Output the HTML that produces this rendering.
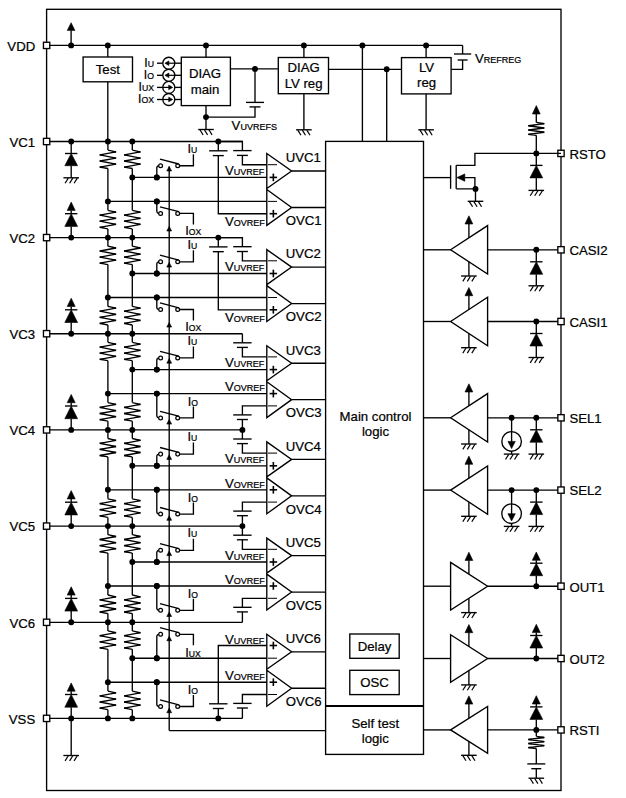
<!DOCTYPE html>
<html><head><meta charset="utf-8"><style>
html,body{margin:0;padding:0;background:#fff;}
svg{display:block;}
text{font-family:"Liberation Sans",sans-serif;fill:#000;stroke:#000;stroke-width:0.22px;}
</style></head><body>
<svg width="626" height="798" viewBox="0 0 626 798">
<g stroke="#000" fill="none" stroke-linecap="butt" stroke-linejoin="miter">
<rect x="46.60" y="9.30" width="514.40" height="781.20" fill="none" stroke-width="1.35"/>
<line x1="46.60" y1="45.40" x2="462.60" y2="45.40" stroke-width="1.35"/>
<rect x="43.45" y="42.25" width="6.30" height="6.30" fill="#fff" stroke-width="1.35"/>
<text x="35.20" y="50.50" font-size="13.2" text-anchor="end">VDD</text>
<circle cx="71.10" cy="45.40" r="2.95" fill="#000" stroke="none"/>
<line x1="71.10" y1="45.40" x2="71.10" y2="30.40" stroke-width="1.35"/>
<polygon points="71.10,22.70 67.30,30.40 74.90,30.40" fill="#000" stroke="#000" stroke-width="0.6"/>
<circle cx="107.80" cy="45.40" r="2.95" fill="#000" stroke="none"/>
<line x1="107.80" y1="45.40" x2="107.80" y2="57.00" stroke-width="1.35"/>
<rect x="83.10" y="57.00" width="49.40" height="24.80" fill="none" stroke-width="1.35"/>
<text x="107.80" y="74.00" font-size="13.2" text-anchor="middle">Test</text>
<line x1="107.80" y1="81.80" x2="107.80" y2="141.50" stroke-width="1.35"/>
<circle cx="206.00" cy="45.40" r="2.95" fill="#000" stroke="none"/>
<line x1="206.00" y1="45.40" x2="206.00" y2="57.20" stroke-width="1.35"/>
<rect x="181.30" y="57.20" width="49.10" height="48.40" fill="none" stroke-width="1.35"/>
<text x="205.00" y="77.60" font-size="13.2" text-anchor="middle">DIAG</text>
<text x="205.00" y="93.60" font-size="13.2" text-anchor="middle">main</text>
<line x1="206.00" y1="105.60" x2="206.00" y2="129.50" stroke-width="1.35"/>
<circle cx="206.00" cy="117.10" r="2.95" fill="#000" stroke="none"/>
<line x1="198.20" y1="129.50" x2="213.80" y2="129.50" stroke-width="1.35"/>
<line x1="199.90" y1="129.80" x2="203.10" y2="134.90" stroke-width="1.2"/>
<line x1="204.40" y1="129.80" x2="207.60" y2="134.90" stroke-width="1.2"/>
<line x1="208.90" y1="129.80" x2="212.10" y2="134.90" stroke-width="1.2"/>
<polyline points="206.00,117.10 255.00,117.10 255.00,106.90" fill="none" stroke-width="1.35"/>
<line x1="230.40" y1="68.90" x2="278.30" y2="68.90" stroke-width="1.35"/>
<circle cx="255.00" cy="68.90" r="2.95" fill="#000" stroke="none"/>
<line x1="255.00" y1="68.90" x2="255.00" y2="102.40" stroke-width="1.35"/>
<line x1="246.00" y1="102.40" x2="264.00" y2="102.40" stroke-width="1.35"/>
<line x1="249.50" y1="106.90" x2="260.50" y2="106.90" stroke-width="1.35"/>
<text x="231.60" y="130.40" font-size="13.2" text-anchor="start">V<tspan font-size="9.0">UVREFS</tspan></text>
<circle cx="168.80" cy="63.20" r="6.0" fill="none" stroke-width="1.35"/>
<line x1="157.00" y1="63.20" x2="162.80" y2="63.20" stroke-width="1.35"/>
<line x1="174.80" y1="63.20" x2="181.30" y2="63.20" stroke-width="1.35"/>
<line x1="166.50" y1="63.20" x2="174.80" y2="63.20" stroke-width="1.2"/>
<polygon points="164.90,63.20 168.90,60.90 168.90,65.50" fill="#000" stroke="#000" stroke-width="0.6"/>
<text x="154.00" y="66.60" font-size="12.2" text-anchor="end">I<tspan font-size="8.7">U</tspan></text>
<circle cx="168.80" cy="75.30" r="6.0" fill="none" stroke-width="1.35"/>
<line x1="157.00" y1="75.30" x2="162.80" y2="75.30" stroke-width="1.35"/>
<line x1="174.80" y1="75.30" x2="181.30" y2="75.30" stroke-width="1.35"/>
<line x1="166.50" y1="75.30" x2="174.80" y2="75.30" stroke-width="1.2"/>
<polygon points="164.90,75.30 168.90,73.00 168.90,77.60" fill="#000" stroke="#000" stroke-width="0.6"/>
<text x="154.00" y="78.70" font-size="12.2" text-anchor="end">I<tspan font-size="8.7">O</tspan></text>
<circle cx="168.80" cy="87.40" r="6.0" fill="none" stroke-width="1.35"/>
<line x1="157.00" y1="87.40" x2="162.80" y2="87.40" stroke-width="1.35"/>
<line x1="174.80" y1="87.40" x2="181.30" y2="87.40" stroke-width="1.35"/>
<line x1="162.80" y1="87.40" x2="171.00" y2="87.40" stroke-width="1.2"/>
<polygon points="172.70,87.40 168.70,85.10 168.70,89.70" fill="#000" stroke="#000" stroke-width="0.6"/>
<text x="154.00" y="90.80" font-size="12.2" text-anchor="end">I<tspan font-size="8.7">UX</tspan></text>
<circle cx="168.80" cy="99.50" r="6.0" fill="none" stroke-width="1.35"/>
<line x1="157.00" y1="99.50" x2="162.80" y2="99.50" stroke-width="1.35"/>
<line x1="174.80" y1="99.50" x2="181.30" y2="99.50" stroke-width="1.35"/>
<line x1="162.80" y1="99.50" x2="171.00" y2="99.50" stroke-width="1.2"/>
<polygon points="172.70,99.50 168.70,97.20 168.70,101.80" fill="#000" stroke="#000" stroke-width="0.6"/>
<text x="154.00" y="102.90" font-size="12.2" text-anchor="end">I<tspan font-size="8.7">OX</tspan></text>
<circle cx="303.90" cy="45.40" r="2.95" fill="#000" stroke="none"/>
<line x1="303.90" y1="45.40" x2="303.90" y2="57.50" stroke-width="1.35"/>
<rect x="278.30" y="57.50" width="50.20" height="36.20" fill="none" stroke-width="1.35"/>
<text x="303.60" y="71.90" font-size="13.2" text-anchor="middle">DIAG</text>
<text x="303.60" y="87.50" font-size="13.2" text-anchor="middle">LV reg</text>
<line x1="303.90" y1="93.70" x2="303.90" y2="129.80" stroke-width="1.35"/>
<line x1="296.10" y1="129.80" x2="311.70" y2="129.80" stroke-width="1.35"/>
<line x1="297.80" y1="130.10" x2="301.00" y2="135.20" stroke-width="1.2"/>
<line x1="302.30" y1="130.10" x2="305.50" y2="135.20" stroke-width="1.2"/>
<line x1="306.80" y1="130.10" x2="310.00" y2="135.20" stroke-width="1.2"/>
<circle cx="362.40" cy="45.40" r="2.95" fill="#000" stroke="none"/>
<line x1="362.40" y1="45.40" x2="362.40" y2="141.40" stroke-width="1.35"/>
<line x1="328.50" y1="69.30" x2="401.50" y2="69.30" stroke-width="1.35"/>
<circle cx="386.70" cy="69.30" r="2.95" fill="#000" stroke="none"/>
<line x1="386.70" y1="69.30" x2="386.70" y2="141.40" stroke-width="1.35"/>
<circle cx="426.10" cy="45.40" r="2.95" fill="#000" stroke="none"/>
<line x1="426.10" y1="45.40" x2="426.10" y2="57.60" stroke-width="1.35"/>
<rect x="401.50" y="57.60" width="49.60" height="36.30" fill="none" stroke-width="1.35"/>
<text x="426.60" y="71.80" font-size="13.2" text-anchor="middle">LV</text>
<text x="426.60" y="87.20" font-size="13.2" text-anchor="middle">reg</text>
<line x1="426.10" y1="93.90" x2="426.10" y2="129.80" stroke-width="1.35"/>
<line x1="418.30" y1="129.80" x2="433.90" y2="129.80" stroke-width="1.35"/>
<line x1="420.00" y1="130.10" x2="423.20" y2="135.20" stroke-width="1.2"/>
<line x1="424.50" y1="130.10" x2="427.70" y2="135.20" stroke-width="1.2"/>
<line x1="429.00" y1="130.10" x2="432.20" y2="135.20" stroke-width="1.2"/>
<polyline points="462.60,45.40 462.60,54.00" fill="none" stroke-width="1.35"/>
<line x1="454.00" y1="54.00" x2="471.20" y2="54.00" stroke-width="1.35"/>
<line x1="457.60" y1="60.00" x2="467.60" y2="60.00" stroke-width="1.35"/>
<polyline points="462.60,60.00 462.60,69.30 451.10,69.30" fill="none" stroke-width="1.35"/>
<text x="475.00" y="62.90" font-size="13.2" text-anchor="start">V<tspan font-size="9.0">REFREG</tspan></text>
<rect x="325.60" y="141.40" width="97.90" height="613.00" fill="none" stroke-width="1.35"/>
<line x1="325.60" y1="706.10" x2="423.50" y2="706.10" stroke-width="2.0"/>
<text x="375.50" y="420.80" font-size="13.2" text-anchor="middle">Main control</text>
<text x="375.50" y="436.00" font-size="13.2" text-anchor="middle">logic</text>
<rect x="349.80" y="634.00" width="49.40" height="24.30" fill="none" stroke-width="1.35"/>
<text x="374.50" y="651.00" font-size="13.2" text-anchor="middle">Delay</text>
<rect x="349.80" y="670.30" width="49.40" height="24.30" fill="none" stroke-width="1.35"/>
<text x="374.50" y="687.00" font-size="13.2" text-anchor="middle">OSC</text>
<text x="375.30" y="727.80" font-size="13.2" text-anchor="middle">Self test</text>
<text x="375.30" y="742.80" font-size="13.2" text-anchor="middle">logic</text>
<circle cx="132.30" cy="177.40" r="2.95" fill="#000" stroke="none"/>
<line x1="132.30" y1="177.40" x2="266.80" y2="177.40" stroke-width="1.35"/>
<circle cx="107.90" cy="201.40" r="2.95" fill="#000" stroke="none"/>
<line x1="107.90" y1="201.40" x2="266.80" y2="201.40" stroke-width="1.35"/>
<circle cx="156.80" cy="177.40" r="2.95" fill="#000" stroke="none"/>
<circle cx="156.80" cy="201.40" r="2.95" fill="#000" stroke="none"/>
<polyline points="107.90,150.10 115.90,151.90 99.90,154.90 115.90,158.10 99.90,161.00 115.90,164.10 99.90,167.10 107.90,168.50" fill="none" stroke-width="1.35"/>
<line x1="112.50" y1="151.90" x2="116.20" y2="151.90" stroke-width="1.5"/>
<line x1="99.60" y1="154.90" x2="103.30" y2="154.90" stroke-width="1.5"/>
<line x1="112.50" y1="158.10" x2="116.20" y2="158.10" stroke-width="1.5"/>
<line x1="99.60" y1="161.00" x2="103.30" y2="161.00" stroke-width="1.5"/>
<line x1="112.50" y1="164.10" x2="116.20" y2="164.10" stroke-width="1.5"/>
<line x1="99.60" y1="167.10" x2="103.30" y2="167.10" stroke-width="1.5"/>
<polyline points="132.30,150.10 140.30,151.90 124.30,154.90 140.30,158.10 124.30,161.00 140.30,164.10 124.30,167.10 132.30,168.50" fill="none" stroke-width="1.35"/>
<line x1="136.90" y1="151.90" x2="140.60" y2="151.90" stroke-width="1.5"/>
<line x1="124.00" y1="154.90" x2="127.70" y2="154.90" stroke-width="1.5"/>
<line x1="136.90" y1="158.10" x2="140.60" y2="158.10" stroke-width="1.5"/>
<line x1="124.00" y1="161.00" x2="127.70" y2="161.00" stroke-width="1.5"/>
<line x1="136.90" y1="164.10" x2="140.60" y2="164.10" stroke-width="1.5"/>
<line x1="124.00" y1="167.10" x2="127.70" y2="167.10" stroke-width="1.5"/>
<polyline points="107.90,210.30 115.90,212.10 99.90,215.10 115.90,218.30 99.90,221.20 115.90,224.30 99.90,227.30 107.90,228.90" fill="none" stroke-width="1.35"/>
<line x1="112.50" y1="212.10" x2="116.20" y2="212.10" stroke-width="1.5"/>
<line x1="99.60" y1="215.10" x2="103.30" y2="215.10" stroke-width="1.5"/>
<line x1="112.50" y1="218.30" x2="116.20" y2="218.30" stroke-width="1.5"/>
<line x1="99.60" y1="221.20" x2="103.30" y2="221.20" stroke-width="1.5"/>
<line x1="112.50" y1="224.30" x2="116.20" y2="224.30" stroke-width="1.5"/>
<line x1="99.60" y1="227.30" x2="103.30" y2="227.30" stroke-width="1.5"/>
<polyline points="132.30,210.30 140.30,212.10 124.30,215.10 140.30,218.30 124.30,221.20 140.30,224.30 124.30,227.30 132.30,228.90" fill="none" stroke-width="1.35"/>
<line x1="136.90" y1="212.10" x2="140.60" y2="212.10" stroke-width="1.5"/>
<line x1="124.00" y1="215.10" x2="127.70" y2="215.10" stroke-width="1.5"/>
<line x1="136.90" y1="218.30" x2="140.60" y2="218.30" stroke-width="1.5"/>
<line x1="124.00" y1="221.20" x2="127.70" y2="221.20" stroke-width="1.5"/>
<line x1="136.90" y1="224.30" x2="140.60" y2="224.30" stroke-width="1.5"/>
<line x1="124.00" y1="227.30" x2="127.70" y2="227.30" stroke-width="1.5"/>
<line x1="107.90" y1="141.50" x2="107.90" y2="150.10" stroke-width="1.35"/>
<line x1="107.90" y1="168.50" x2="107.90" y2="210.30" stroke-width="1.35"/>
<line x1="107.90" y1="228.90" x2="107.90" y2="237.60" stroke-width="1.35"/>
<line x1="132.30" y1="141.50" x2="132.30" y2="150.10" stroke-width="1.35"/>
<line x1="132.30" y1="168.50" x2="132.30" y2="210.30" stroke-width="1.35"/>
<line x1="132.30" y1="228.90" x2="132.30" y2="237.60" stroke-width="1.35"/>
<polygon points="266.80,153.50 291.60,171.00 266.80,188.50" fill="none" stroke-width="1.35"/>
<line x1="268.00" y1="164.70" x2="277.00" y2="164.70" stroke-width="1.0"/>
<line x1="269.60" y1="177.40" x2="277.10" y2="177.40" stroke-width="1.6"/>
<line x1="273.35" y1="173.60" x2="273.35" y2="181.20" stroke-width="1.6"/>
<polygon points="266.80,189.50 291.60,207.45 266.80,225.40" fill="none" stroke-width="1.35"/>
<line x1="268.00" y1="201.40" x2="277.00" y2="201.40" stroke-width="1.0"/>
<line x1="269.60" y1="213.70" x2="277.10" y2="213.70" stroke-width="1.6"/>
<line x1="273.35" y1="209.90" x2="273.35" y2="217.50" stroke-width="1.6"/>
<line x1="291.60" y1="171.00" x2="325.60" y2="171.00" stroke-width="1.35"/>
<line x1="291.60" y1="207.45" x2="325.60" y2="207.45" stroke-width="1.35"/>
<text x="285.70" y="162.30" font-size="13.2" text-anchor="start">UVC1</text>
<text x="285.70" y="225.10" font-size="13.2" text-anchor="start">OVC1</text>
<circle cx="156.80" cy="177.40" r="2.95" fill="#000" stroke="none"/>
<polyline points="156.80,177.40 156.80,167.70 157.40,166.30 158.70,165.70" fill="none" stroke-width="1.35"/>
<circle cx="160.60" cy="165.70" r="1.9" fill="none" stroke-width="1.25"/>
<circle cx="177.70" cy="165.70" r="1.9" fill="none" stroke-width="1.25"/>
<line x1="160.00" y1="159.10" x2="178.80" y2="164.00" stroke-width="1.35"/>
<polyline points="179.60,165.70 193.40,165.70 193.40,154.20" fill="none" stroke-width="1.35"/>
<text x="187.50" y="152.80" font-size="12.8" text-anchor="start">I<tspan font-size="8.6">U</tspan></text>
<circle cx="156.80" cy="201.40" r="2.95" fill="#000" stroke="none"/>
<polyline points="156.80,201.40 156.80,211.40 157.40,212.80 158.70,213.40" fill="none" stroke-width="1.35"/>
<circle cx="160.60" cy="213.40" r="1.9" fill="none" stroke-width="1.25"/>
<circle cx="177.70" cy="213.40" r="1.9" fill="none" stroke-width="1.25"/>
<line x1="160.00" y1="206.80" x2="178.80" y2="211.70" stroke-width="1.35"/>
<polyline points="179.60,213.40 193.40,213.40 193.40,224.40" fill="none" stroke-width="1.35"/>
<text x="185.30" y="234.60" font-size="12.8" text-anchor="start">I<tspan font-size="8.6">OX</tspan></text>
<circle cx="218.30" cy="141.50" r="2.95" fill="#000" stroke="none"/>
<line x1="218.30" y1="141.50" x2="218.30" y2="150.80" stroke-width="1.35"/>
<line x1="209.10" y1="150.80" x2="227.50" y2="150.80" stroke-width="1.35"/>
<line x1="212.80" y1="155.60" x2="223.80" y2="155.60" stroke-width="1.35"/>
<polyline points="218.30,155.60 218.30,213.70 266.80,213.70" fill="none" stroke-width="1.35"/>
<polyline points="218.30,141.50 242.40,141.50 242.40,150.60" fill="none" stroke-width="1.35"/>
<line x1="233.20" y1="150.60" x2="251.60" y2="150.60" stroke-width="1.35"/>
<line x1="236.90" y1="155.40" x2="247.90" y2="155.40" stroke-width="1.35"/>
<polyline points="242.40,155.40 242.40,164.70 266.80,164.70" fill="none" stroke-width="1.35"/>
<text x="224.90" y="175.00" font-size="13.2" text-anchor="start">V<tspan font-size="9.0">UVREF</tspan></text>
<text x="224.90" y="225.50" font-size="13.2" text-anchor="start">V<tspan font-size="9.0">OVREF</tspan></text>
<circle cx="132.30" cy="273.50" r="2.95" fill="#000" stroke="none"/>
<line x1="132.30" y1="273.50" x2="266.80" y2="273.50" stroke-width="1.35"/>
<circle cx="107.90" cy="297.50" r="2.95" fill="#000" stroke="none"/>
<line x1="107.90" y1="297.50" x2="266.80" y2="297.50" stroke-width="1.35"/>
<circle cx="156.80" cy="273.50" r="2.95" fill="#000" stroke="none"/>
<circle cx="156.80" cy="297.50" r="2.95" fill="#000" stroke="none"/>
<polyline points="107.90,246.20 115.90,248.00 99.90,251.00 115.90,254.20 99.90,257.10 115.90,260.20 99.90,263.20 107.90,264.60" fill="none" stroke-width="1.35"/>
<line x1="112.50" y1="248.00" x2="116.20" y2="248.00" stroke-width="1.5"/>
<line x1="99.60" y1="251.00" x2="103.30" y2="251.00" stroke-width="1.5"/>
<line x1="112.50" y1="254.20" x2="116.20" y2="254.20" stroke-width="1.5"/>
<line x1="99.60" y1="257.10" x2="103.30" y2="257.10" stroke-width="1.5"/>
<line x1="112.50" y1="260.20" x2="116.20" y2="260.20" stroke-width="1.5"/>
<line x1="99.60" y1="263.20" x2="103.30" y2="263.20" stroke-width="1.5"/>
<polyline points="132.30,246.20 140.30,248.00 124.30,251.00 140.30,254.20 124.30,257.10 140.30,260.20 124.30,263.20 132.30,264.60" fill="none" stroke-width="1.35"/>
<line x1="136.90" y1="248.00" x2="140.60" y2="248.00" stroke-width="1.5"/>
<line x1="124.00" y1="251.00" x2="127.70" y2="251.00" stroke-width="1.5"/>
<line x1="136.90" y1="254.20" x2="140.60" y2="254.20" stroke-width="1.5"/>
<line x1="124.00" y1="257.10" x2="127.70" y2="257.10" stroke-width="1.5"/>
<line x1="136.90" y1="260.20" x2="140.60" y2="260.20" stroke-width="1.5"/>
<line x1="124.00" y1="263.20" x2="127.70" y2="263.20" stroke-width="1.5"/>
<polyline points="107.90,306.40 115.90,308.20 99.90,311.20 115.90,314.40 99.90,317.30 115.90,320.40 99.90,323.40 107.90,325.00" fill="none" stroke-width="1.35"/>
<line x1="112.50" y1="308.20" x2="116.20" y2="308.20" stroke-width="1.5"/>
<line x1="99.60" y1="311.20" x2="103.30" y2="311.20" stroke-width="1.5"/>
<line x1="112.50" y1="314.40" x2="116.20" y2="314.40" stroke-width="1.5"/>
<line x1="99.60" y1="317.30" x2="103.30" y2="317.30" stroke-width="1.5"/>
<line x1="112.50" y1="320.40" x2="116.20" y2="320.40" stroke-width="1.5"/>
<line x1="99.60" y1="323.40" x2="103.30" y2="323.40" stroke-width="1.5"/>
<polyline points="132.30,306.40 140.30,308.20 124.30,311.20 140.30,314.40 124.30,317.30 140.30,320.40 124.30,323.40 132.30,325.00" fill="none" stroke-width="1.35"/>
<line x1="136.90" y1="308.20" x2="140.60" y2="308.20" stroke-width="1.5"/>
<line x1="124.00" y1="311.20" x2="127.70" y2="311.20" stroke-width="1.5"/>
<line x1="136.90" y1="314.40" x2="140.60" y2="314.40" stroke-width="1.5"/>
<line x1="124.00" y1="317.30" x2="127.70" y2="317.30" stroke-width="1.5"/>
<line x1="136.90" y1="320.40" x2="140.60" y2="320.40" stroke-width="1.5"/>
<line x1="124.00" y1="323.40" x2="127.70" y2="323.40" stroke-width="1.5"/>
<line x1="107.90" y1="237.60" x2="107.90" y2="246.20" stroke-width="1.35"/>
<line x1="107.90" y1="264.60" x2="107.90" y2="306.40" stroke-width="1.35"/>
<line x1="107.90" y1="325.00" x2="107.90" y2="333.70" stroke-width="1.35"/>
<line x1="132.30" y1="237.60" x2="132.30" y2="246.20" stroke-width="1.35"/>
<line x1="132.30" y1="264.60" x2="132.30" y2="306.40" stroke-width="1.35"/>
<line x1="132.30" y1="325.00" x2="132.30" y2="333.70" stroke-width="1.35"/>
<polygon points="266.80,249.60 291.60,267.10 266.80,284.60" fill="none" stroke-width="1.35"/>
<line x1="268.00" y1="260.80" x2="277.00" y2="260.80" stroke-width="1.0"/>
<line x1="269.60" y1="273.50" x2="277.10" y2="273.50" stroke-width="1.6"/>
<line x1="273.35" y1="269.70" x2="273.35" y2="277.30" stroke-width="1.6"/>
<polygon points="266.80,285.60 291.60,303.55 266.80,321.50" fill="none" stroke-width="1.35"/>
<line x1="268.00" y1="297.50" x2="277.00" y2="297.50" stroke-width="1.0"/>
<line x1="269.60" y1="309.80" x2="277.10" y2="309.80" stroke-width="1.6"/>
<line x1="273.35" y1="306.00" x2="273.35" y2="313.60" stroke-width="1.6"/>
<line x1="291.60" y1="267.10" x2="325.60" y2="267.10" stroke-width="1.35"/>
<line x1="291.60" y1="303.55" x2="325.60" y2="303.55" stroke-width="1.35"/>
<text x="285.70" y="258.40" font-size="13.2" text-anchor="start">UVC2</text>
<text x="285.70" y="321.20" font-size="13.2" text-anchor="start">OVC2</text>
<circle cx="156.80" cy="273.50" r="2.95" fill="#000" stroke="none"/>
<polyline points="156.80,273.50 156.80,263.80 157.40,262.40 158.70,261.80" fill="none" stroke-width="1.35"/>
<circle cx="160.60" cy="261.80" r="1.9" fill="none" stroke-width="1.25"/>
<circle cx="177.70" cy="261.80" r="1.9" fill="none" stroke-width="1.25"/>
<line x1="160.00" y1="255.20" x2="178.80" y2="260.10" stroke-width="1.35"/>
<polyline points="179.60,261.80 193.40,261.80 193.40,250.30" fill="none" stroke-width="1.35"/>
<text x="187.50" y="248.90" font-size="12.8" text-anchor="start">I<tspan font-size="8.6">U</tspan></text>
<circle cx="156.80" cy="297.50" r="2.95" fill="#000" stroke="none"/>
<polyline points="156.80,297.50 156.80,307.50 157.40,308.90 158.70,309.50" fill="none" stroke-width="1.35"/>
<circle cx="160.60" cy="309.50" r="1.9" fill="none" stroke-width="1.25"/>
<circle cx="177.70" cy="309.50" r="1.9" fill="none" stroke-width="1.25"/>
<line x1="160.00" y1="302.90" x2="178.80" y2="307.80" stroke-width="1.35"/>
<polyline points="179.60,309.50 193.40,309.50 193.40,320.50" fill="none" stroke-width="1.35"/>
<text x="185.30" y="330.70" font-size="12.8" text-anchor="start">I<tspan font-size="8.6">OX</tspan></text>
<circle cx="218.30" cy="237.60" r="2.95" fill="#000" stroke="none"/>
<line x1="218.30" y1="237.60" x2="218.30" y2="246.90" stroke-width="1.35"/>
<line x1="209.10" y1="246.90" x2="227.50" y2="246.90" stroke-width="1.35"/>
<line x1="212.80" y1="251.70" x2="223.80" y2="251.70" stroke-width="1.35"/>
<polyline points="218.30,251.70 218.30,309.80 266.80,309.80" fill="none" stroke-width="1.35"/>
<polyline points="218.30,237.60 242.40,237.60 242.40,246.70" fill="none" stroke-width="1.35"/>
<line x1="233.20" y1="246.70" x2="251.60" y2="246.70" stroke-width="1.35"/>
<line x1="236.90" y1="251.50" x2="247.90" y2="251.50" stroke-width="1.35"/>
<polyline points="242.40,251.50 242.40,260.80 266.80,260.80" fill="none" stroke-width="1.35"/>
<text x="224.90" y="271.10" font-size="13.2" text-anchor="start">V<tspan font-size="9.0">UVREF</tspan></text>
<text x="224.90" y="321.60" font-size="13.2" text-anchor="start">V<tspan font-size="9.0">OVREF</tspan></text>
<circle cx="132.30" cy="369.60" r="2.95" fill="#000" stroke="none"/>
<line x1="132.30" y1="369.60" x2="266.80" y2="369.60" stroke-width="1.35"/>
<circle cx="107.90" cy="393.60" r="2.95" fill="#000" stroke="none"/>
<line x1="107.90" y1="393.60" x2="266.80" y2="393.60" stroke-width="1.35"/>
<circle cx="156.80" cy="369.60" r="2.95" fill="#000" stroke="none"/>
<circle cx="156.80" cy="393.60" r="2.95" fill="#000" stroke="none"/>
<polyline points="107.90,342.30 115.90,344.10 99.90,347.10 115.90,350.30 99.90,353.20 115.90,356.30 99.90,359.30 107.90,360.70" fill="none" stroke-width="1.35"/>
<line x1="112.50" y1="344.10" x2="116.20" y2="344.10" stroke-width="1.5"/>
<line x1="99.60" y1="347.10" x2="103.30" y2="347.10" stroke-width="1.5"/>
<line x1="112.50" y1="350.30" x2="116.20" y2="350.30" stroke-width="1.5"/>
<line x1="99.60" y1="353.20" x2="103.30" y2="353.20" stroke-width="1.5"/>
<line x1="112.50" y1="356.30" x2="116.20" y2="356.30" stroke-width="1.5"/>
<line x1="99.60" y1="359.30" x2="103.30" y2="359.30" stroke-width="1.5"/>
<polyline points="132.30,342.30 140.30,344.10 124.30,347.10 140.30,350.30 124.30,353.20 140.30,356.30 124.30,359.30 132.30,360.70" fill="none" stroke-width="1.35"/>
<line x1="136.90" y1="344.10" x2="140.60" y2="344.10" stroke-width="1.5"/>
<line x1="124.00" y1="347.10" x2="127.70" y2="347.10" stroke-width="1.5"/>
<line x1="136.90" y1="350.30" x2="140.60" y2="350.30" stroke-width="1.5"/>
<line x1="124.00" y1="353.20" x2="127.70" y2="353.20" stroke-width="1.5"/>
<line x1="136.90" y1="356.30" x2="140.60" y2="356.30" stroke-width="1.5"/>
<line x1="124.00" y1="359.30" x2="127.70" y2="359.30" stroke-width="1.5"/>
<polyline points="107.90,402.60 115.90,404.40 99.90,407.40 115.90,410.60 99.90,413.50 115.90,416.60 99.90,419.60 107.90,421.20" fill="none" stroke-width="1.35"/>
<line x1="112.50" y1="404.40" x2="116.20" y2="404.40" stroke-width="1.5"/>
<line x1="99.60" y1="407.40" x2="103.30" y2="407.40" stroke-width="1.5"/>
<line x1="112.50" y1="410.60" x2="116.20" y2="410.60" stroke-width="1.5"/>
<line x1="99.60" y1="413.50" x2="103.30" y2="413.50" stroke-width="1.5"/>
<line x1="112.50" y1="416.60" x2="116.20" y2="416.60" stroke-width="1.5"/>
<line x1="99.60" y1="419.60" x2="103.30" y2="419.60" stroke-width="1.5"/>
<polyline points="132.30,402.60 140.30,404.40 124.30,407.40 140.30,410.60 124.30,413.50 140.30,416.60 124.30,419.60 132.30,421.20" fill="none" stroke-width="1.35"/>
<line x1="136.90" y1="404.40" x2="140.60" y2="404.40" stroke-width="1.5"/>
<line x1="124.00" y1="407.40" x2="127.70" y2="407.40" stroke-width="1.5"/>
<line x1="136.90" y1="410.60" x2="140.60" y2="410.60" stroke-width="1.5"/>
<line x1="124.00" y1="413.50" x2="127.70" y2="413.50" stroke-width="1.5"/>
<line x1="136.90" y1="416.60" x2="140.60" y2="416.60" stroke-width="1.5"/>
<line x1="124.00" y1="419.60" x2="127.70" y2="419.60" stroke-width="1.5"/>
<line x1="107.90" y1="333.70" x2="107.90" y2="342.30" stroke-width="1.35"/>
<line x1="107.90" y1="360.70" x2="107.90" y2="402.60" stroke-width="1.35"/>
<line x1="107.90" y1="421.20" x2="107.90" y2="429.90" stroke-width="1.35"/>
<line x1="132.30" y1="333.70" x2="132.30" y2="342.30" stroke-width="1.35"/>
<line x1="132.30" y1="360.70" x2="132.30" y2="402.60" stroke-width="1.35"/>
<line x1="132.30" y1="421.20" x2="132.30" y2="429.90" stroke-width="1.35"/>
<polygon points="266.80,345.70 291.60,363.20 266.80,380.70" fill="none" stroke-width="1.35"/>
<line x1="268.00" y1="356.90" x2="277.00" y2="356.90" stroke-width="1.0"/>
<line x1="269.60" y1="369.60" x2="277.10" y2="369.60" stroke-width="1.6"/>
<line x1="273.35" y1="365.80" x2="273.35" y2="373.40" stroke-width="1.6"/>
<polygon points="266.80,381.70 291.60,399.65 266.80,417.60" fill="none" stroke-width="1.35"/>
<line x1="269.60" y1="393.60" x2="277.10" y2="393.60" stroke-width="1.6"/>
<line x1="273.35" y1="389.80" x2="273.35" y2="397.40" stroke-width="1.6"/>
<line x1="268.00" y1="405.90" x2="277.00" y2="405.90" stroke-width="1.0"/>
<line x1="291.60" y1="363.20" x2="325.60" y2="363.20" stroke-width="1.35"/>
<line x1="291.60" y1="399.65" x2="325.60" y2="399.65" stroke-width="1.35"/>
<text x="285.70" y="354.50" font-size="13.2" text-anchor="start">UVC3</text>
<text x="285.70" y="417.30" font-size="13.2" text-anchor="start">OVC3</text>
<circle cx="156.80" cy="369.60" r="2.95" fill="#000" stroke="none"/>
<polyline points="156.80,369.60 156.80,359.90 157.40,358.50 158.70,357.90" fill="none" stroke-width="1.35"/>
<circle cx="160.60" cy="357.90" r="1.9" fill="none" stroke-width="1.25"/>
<circle cx="177.70" cy="357.90" r="1.9" fill="none" stroke-width="1.25"/>
<line x1="160.00" y1="351.30" x2="178.80" y2="356.20" stroke-width="1.35"/>
<polyline points="179.60,357.90 193.40,357.90 193.40,346.40" fill="none" stroke-width="1.35"/>
<text x="187.50" y="345.00" font-size="12.8" text-anchor="start">I<tspan font-size="8.6">U</tspan></text>
<circle cx="156.80" cy="393.60" r="2.95" fill="#000" stroke="none"/>
<polyline points="156.80,393.60 156.80,415.90 157.40,417.30 158.70,417.90" fill="none" stroke-width="1.35"/>
<circle cx="160.60" cy="417.90" r="1.9" fill="none" stroke-width="1.25"/>
<circle cx="177.70" cy="417.90" r="1.9" fill="none" stroke-width="1.25"/>
<line x1="160.00" y1="411.30" x2="178.80" y2="416.20" stroke-width="1.35"/>
<polyline points="179.60,417.90 193.40,417.90 193.40,406.40" fill="none" stroke-width="1.35"/>
<text x="187.80" y="405.60" font-size="12.8" text-anchor="start">I<tspan font-size="8.6">O</tspan></text>
<line x1="242.40" y1="333.70" x2="242.40" y2="342.80" stroke-width="1.35"/>
<line x1="233.20" y1="342.80" x2="251.60" y2="342.80" stroke-width="1.35"/>
<line x1="236.90" y1="347.40" x2="247.90" y2="347.40" stroke-width="1.35"/>
<polyline points="242.40,347.40 242.40,356.90 266.80,356.90" fill="none" stroke-width="1.35"/>
<text x="224.90" y="367.20" font-size="13.2" text-anchor="start">V<tspan font-size="9.0">UVREF</tspan></text>
<polyline points="266.80,405.90 242.40,405.90 242.40,414.90" fill="none" stroke-width="1.35"/>
<line x1="233.20" y1="414.90" x2="251.60" y2="414.90" stroke-width="1.35"/>
<line x1="236.90" y1="419.50" x2="247.90" y2="419.50" stroke-width="1.35"/>
<line x1="242.40" y1="419.50" x2="242.40" y2="429.90" stroke-width="1.35"/>
<text x="224.90" y="391.30" font-size="13.2" text-anchor="start">V<tspan font-size="9.0">OVREF</tspan></text>
<circle cx="132.30" cy="465.80" r="2.95" fill="#000" stroke="none"/>
<line x1="132.30" y1="465.80" x2="266.80" y2="465.80" stroke-width="1.35"/>
<circle cx="107.90" cy="489.80" r="2.95" fill="#000" stroke="none"/>
<line x1="107.90" y1="489.80" x2="266.80" y2="489.80" stroke-width="1.35"/>
<circle cx="156.80" cy="465.80" r="2.95" fill="#000" stroke="none"/>
<circle cx="156.80" cy="489.80" r="2.95" fill="#000" stroke="none"/>
<polyline points="107.90,438.50 115.90,440.30 99.90,443.30 115.90,446.50 99.90,449.40 115.90,452.50 99.90,455.50 107.90,456.90" fill="none" stroke-width="1.35"/>
<line x1="112.50" y1="440.30" x2="116.20" y2="440.30" stroke-width="1.5"/>
<line x1="99.60" y1="443.30" x2="103.30" y2="443.30" stroke-width="1.5"/>
<line x1="112.50" y1="446.50" x2="116.20" y2="446.50" stroke-width="1.5"/>
<line x1="99.60" y1="449.40" x2="103.30" y2="449.40" stroke-width="1.5"/>
<line x1="112.50" y1="452.50" x2="116.20" y2="452.50" stroke-width="1.5"/>
<line x1="99.60" y1="455.50" x2="103.30" y2="455.50" stroke-width="1.5"/>
<polyline points="132.30,438.50 140.30,440.30 124.30,443.30 140.30,446.50 124.30,449.40 140.30,452.50 124.30,455.50 132.30,456.90" fill="none" stroke-width="1.35"/>
<line x1="136.90" y1="440.30" x2="140.60" y2="440.30" stroke-width="1.5"/>
<line x1="124.00" y1="443.30" x2="127.70" y2="443.30" stroke-width="1.5"/>
<line x1="136.90" y1="446.50" x2="140.60" y2="446.50" stroke-width="1.5"/>
<line x1="124.00" y1="449.40" x2="127.70" y2="449.40" stroke-width="1.5"/>
<line x1="136.90" y1="452.50" x2="140.60" y2="452.50" stroke-width="1.5"/>
<line x1="124.00" y1="455.50" x2="127.70" y2="455.50" stroke-width="1.5"/>
<polyline points="107.90,498.80 115.90,500.60 99.90,503.60 115.90,506.80 99.90,509.70 115.90,512.80 99.90,515.80 107.90,517.40" fill="none" stroke-width="1.35"/>
<line x1="112.50" y1="500.60" x2="116.20" y2="500.60" stroke-width="1.5"/>
<line x1="99.60" y1="503.60" x2="103.30" y2="503.60" stroke-width="1.5"/>
<line x1="112.50" y1="506.80" x2="116.20" y2="506.80" stroke-width="1.5"/>
<line x1="99.60" y1="509.70" x2="103.30" y2="509.70" stroke-width="1.5"/>
<line x1="112.50" y1="512.80" x2="116.20" y2="512.80" stroke-width="1.5"/>
<line x1="99.60" y1="515.80" x2="103.30" y2="515.80" stroke-width="1.5"/>
<polyline points="132.30,498.80 140.30,500.60 124.30,503.60 140.30,506.80 124.30,509.70 140.30,512.80 124.30,515.80 132.30,517.40" fill="none" stroke-width="1.35"/>
<line x1="136.90" y1="500.60" x2="140.60" y2="500.60" stroke-width="1.5"/>
<line x1="124.00" y1="503.60" x2="127.70" y2="503.60" stroke-width="1.5"/>
<line x1="136.90" y1="506.80" x2="140.60" y2="506.80" stroke-width="1.5"/>
<line x1="124.00" y1="509.70" x2="127.70" y2="509.70" stroke-width="1.5"/>
<line x1="136.90" y1="512.80" x2="140.60" y2="512.80" stroke-width="1.5"/>
<line x1="124.00" y1="515.80" x2="127.70" y2="515.80" stroke-width="1.5"/>
<line x1="107.90" y1="429.90" x2="107.90" y2="438.50" stroke-width="1.35"/>
<line x1="107.90" y1="456.90" x2="107.90" y2="498.80" stroke-width="1.35"/>
<line x1="107.90" y1="517.40" x2="107.90" y2="526.10" stroke-width="1.35"/>
<line x1="132.30" y1="429.90" x2="132.30" y2="438.50" stroke-width="1.35"/>
<line x1="132.30" y1="456.90" x2="132.30" y2="498.80" stroke-width="1.35"/>
<line x1="132.30" y1="517.40" x2="132.30" y2="526.10" stroke-width="1.35"/>
<polygon points="266.80,441.90 291.60,459.40 266.80,476.90" fill="none" stroke-width="1.35"/>
<line x1="268.00" y1="453.10" x2="277.00" y2="453.10" stroke-width="1.0"/>
<line x1="269.60" y1="465.80" x2="277.10" y2="465.80" stroke-width="1.6"/>
<line x1="273.35" y1="462.00" x2="273.35" y2="469.60" stroke-width="1.6"/>
<polygon points="266.80,477.90 291.60,495.85 266.80,513.80" fill="none" stroke-width="1.35"/>
<line x1="269.60" y1="489.80" x2="277.10" y2="489.80" stroke-width="1.6"/>
<line x1="273.35" y1="486.00" x2="273.35" y2="493.60" stroke-width="1.6"/>
<line x1="268.00" y1="502.10" x2="277.00" y2="502.10" stroke-width="1.0"/>
<line x1="291.60" y1="459.40" x2="325.60" y2="459.40" stroke-width="1.35"/>
<line x1="291.60" y1="495.85" x2="325.60" y2="495.85" stroke-width="1.35"/>
<text x="285.70" y="450.70" font-size="13.2" text-anchor="start">UVC4</text>
<text x="285.70" y="513.50" font-size="13.2" text-anchor="start">OVC4</text>
<circle cx="156.80" cy="465.80" r="2.95" fill="#000" stroke="none"/>
<polyline points="156.80,465.80 156.80,456.10 157.40,454.70 158.70,454.10" fill="none" stroke-width="1.35"/>
<circle cx="160.60" cy="454.10" r="1.9" fill="none" stroke-width="1.25"/>
<circle cx="177.70" cy="454.10" r="1.9" fill="none" stroke-width="1.25"/>
<line x1="160.00" y1="447.50" x2="178.80" y2="452.40" stroke-width="1.35"/>
<polyline points="179.60,454.10 193.40,454.10 193.40,442.60" fill="none" stroke-width="1.35"/>
<text x="187.50" y="441.20" font-size="12.8" text-anchor="start">I<tspan font-size="8.6">U</tspan></text>
<circle cx="156.80" cy="489.80" r="2.95" fill="#000" stroke="none"/>
<polyline points="156.80,489.80 156.80,512.10 157.40,513.50 158.70,514.10" fill="none" stroke-width="1.35"/>
<circle cx="160.60" cy="514.10" r="1.9" fill="none" stroke-width="1.25"/>
<circle cx="177.70" cy="514.10" r="1.9" fill="none" stroke-width="1.25"/>
<line x1="160.00" y1="507.50" x2="178.80" y2="512.40" stroke-width="1.35"/>
<polyline points="179.60,514.10 193.40,514.10 193.40,502.60" fill="none" stroke-width="1.35"/>
<text x="187.80" y="501.80" font-size="12.8" text-anchor="start">I<tspan font-size="8.6">O</tspan></text>
<line x1="242.40" y1="429.90" x2="242.40" y2="439.00" stroke-width="1.35"/>
<line x1="233.20" y1="439.00" x2="251.60" y2="439.00" stroke-width="1.35"/>
<line x1="236.90" y1="443.60" x2="247.90" y2="443.60" stroke-width="1.35"/>
<polyline points="242.40,443.60 242.40,453.10 266.80,453.10" fill="none" stroke-width="1.35"/>
<text x="224.90" y="463.40" font-size="13.2" text-anchor="start">V<tspan font-size="9.0">UVREF</tspan></text>
<polyline points="266.80,502.10 242.40,502.10 242.40,511.10" fill="none" stroke-width="1.35"/>
<line x1="233.20" y1="511.10" x2="251.60" y2="511.10" stroke-width="1.35"/>
<line x1="236.90" y1="515.70" x2="247.90" y2="515.70" stroke-width="1.35"/>
<line x1="242.40" y1="515.70" x2="242.40" y2="526.10" stroke-width="1.35"/>
<text x="224.90" y="487.50" font-size="13.2" text-anchor="start">V<tspan font-size="9.0">OVREF</tspan></text>
<circle cx="132.30" cy="562.00" r="2.95" fill="#000" stroke="none"/>
<line x1="132.30" y1="562.00" x2="266.80" y2="562.00" stroke-width="1.35"/>
<circle cx="107.90" cy="586.00" r="2.95" fill="#000" stroke="none"/>
<line x1="107.90" y1="586.00" x2="266.80" y2="586.00" stroke-width="1.35"/>
<circle cx="156.80" cy="562.00" r="2.95" fill="#000" stroke="none"/>
<circle cx="156.80" cy="586.00" r="2.95" fill="#000" stroke="none"/>
<polyline points="107.90,534.70 115.90,536.50 99.90,539.50 115.90,542.70 99.90,545.60 115.90,548.70 99.90,551.70 107.90,553.10" fill="none" stroke-width="1.35"/>
<line x1="112.50" y1="536.50" x2="116.20" y2="536.50" stroke-width="1.5"/>
<line x1="99.60" y1="539.50" x2="103.30" y2="539.50" stroke-width="1.5"/>
<line x1="112.50" y1="542.70" x2="116.20" y2="542.70" stroke-width="1.5"/>
<line x1="99.60" y1="545.60" x2="103.30" y2="545.60" stroke-width="1.5"/>
<line x1="112.50" y1="548.70" x2="116.20" y2="548.70" stroke-width="1.5"/>
<line x1="99.60" y1="551.70" x2="103.30" y2="551.70" stroke-width="1.5"/>
<polyline points="132.30,534.70 140.30,536.50 124.30,539.50 140.30,542.70 124.30,545.60 140.30,548.70 124.30,551.70 132.30,553.10" fill="none" stroke-width="1.35"/>
<line x1="136.90" y1="536.50" x2="140.60" y2="536.50" stroke-width="1.5"/>
<line x1="124.00" y1="539.50" x2="127.70" y2="539.50" stroke-width="1.5"/>
<line x1="136.90" y1="542.70" x2="140.60" y2="542.70" stroke-width="1.5"/>
<line x1="124.00" y1="545.60" x2="127.70" y2="545.60" stroke-width="1.5"/>
<line x1="136.90" y1="548.70" x2="140.60" y2="548.70" stroke-width="1.5"/>
<line x1="124.00" y1="551.70" x2="127.70" y2="551.70" stroke-width="1.5"/>
<polyline points="107.90,595.00 115.90,596.80 99.90,599.80 115.90,603.00 99.90,605.90 115.90,609.00 99.90,612.00 107.90,613.60" fill="none" stroke-width="1.35"/>
<line x1="112.50" y1="596.80" x2="116.20" y2="596.80" stroke-width="1.5"/>
<line x1="99.60" y1="599.80" x2="103.30" y2="599.80" stroke-width="1.5"/>
<line x1="112.50" y1="603.00" x2="116.20" y2="603.00" stroke-width="1.5"/>
<line x1="99.60" y1="605.90" x2="103.30" y2="605.90" stroke-width="1.5"/>
<line x1="112.50" y1="609.00" x2="116.20" y2="609.00" stroke-width="1.5"/>
<line x1="99.60" y1="612.00" x2="103.30" y2="612.00" stroke-width="1.5"/>
<polyline points="132.30,595.00 140.30,596.80 124.30,599.80 140.30,603.00 124.30,605.90 140.30,609.00 124.30,612.00 132.30,613.60" fill="none" stroke-width="1.35"/>
<line x1="136.90" y1="596.80" x2="140.60" y2="596.80" stroke-width="1.5"/>
<line x1="124.00" y1="599.80" x2="127.70" y2="599.80" stroke-width="1.5"/>
<line x1="136.90" y1="603.00" x2="140.60" y2="603.00" stroke-width="1.5"/>
<line x1="124.00" y1="605.90" x2="127.70" y2="605.90" stroke-width="1.5"/>
<line x1="136.90" y1="609.00" x2="140.60" y2="609.00" stroke-width="1.5"/>
<line x1="124.00" y1="612.00" x2="127.70" y2="612.00" stroke-width="1.5"/>
<line x1="107.90" y1="526.10" x2="107.90" y2="534.70" stroke-width="1.35"/>
<line x1="107.90" y1="553.10" x2="107.90" y2="595.00" stroke-width="1.35"/>
<line x1="107.90" y1="613.60" x2="107.90" y2="622.30" stroke-width="1.35"/>
<line x1="132.30" y1="526.10" x2="132.30" y2="534.70" stroke-width="1.35"/>
<line x1="132.30" y1="553.10" x2="132.30" y2="595.00" stroke-width="1.35"/>
<line x1="132.30" y1="613.60" x2="132.30" y2="622.30" stroke-width="1.35"/>
<polygon points="266.80,538.10 291.60,555.60 266.80,573.10" fill="none" stroke-width="1.35"/>
<line x1="268.00" y1="549.30" x2="277.00" y2="549.30" stroke-width="1.0"/>
<line x1="269.60" y1="562.00" x2="277.10" y2="562.00" stroke-width="1.6"/>
<line x1="273.35" y1="558.20" x2="273.35" y2="565.80" stroke-width="1.6"/>
<polygon points="266.80,574.10 291.60,592.05 266.80,610.00" fill="none" stroke-width="1.35"/>
<line x1="269.60" y1="586.00" x2="277.10" y2="586.00" stroke-width="1.6"/>
<line x1="273.35" y1="582.20" x2="273.35" y2="589.80" stroke-width="1.6"/>
<line x1="268.00" y1="598.30" x2="277.00" y2="598.30" stroke-width="1.0"/>
<line x1="291.60" y1="555.60" x2="325.60" y2="555.60" stroke-width="1.35"/>
<line x1="291.60" y1="592.05" x2="325.60" y2="592.05" stroke-width="1.35"/>
<text x="285.70" y="546.90" font-size="13.2" text-anchor="start">UVC5</text>
<text x="285.70" y="609.70" font-size="13.2" text-anchor="start">OVC5</text>
<circle cx="156.80" cy="562.00" r="2.95" fill="#000" stroke="none"/>
<polyline points="156.80,562.00 156.80,552.30 157.40,550.90 158.70,550.30" fill="none" stroke-width="1.35"/>
<circle cx="160.60" cy="550.30" r="1.9" fill="none" stroke-width="1.25"/>
<circle cx="177.70" cy="550.30" r="1.9" fill="none" stroke-width="1.25"/>
<line x1="160.00" y1="543.70" x2="178.80" y2="548.60" stroke-width="1.35"/>
<polyline points="179.60,550.30 193.40,550.30 193.40,538.80" fill="none" stroke-width="1.35"/>
<text x="187.50" y="537.40" font-size="12.8" text-anchor="start">I<tspan font-size="8.6">U</tspan></text>
<circle cx="156.80" cy="586.00" r="2.95" fill="#000" stroke="none"/>
<polyline points="156.80,586.00 156.80,608.30 157.40,609.70 158.70,610.30" fill="none" stroke-width="1.35"/>
<circle cx="160.60" cy="610.30" r="1.9" fill="none" stroke-width="1.25"/>
<circle cx="177.70" cy="610.30" r="1.9" fill="none" stroke-width="1.25"/>
<line x1="160.00" y1="603.70" x2="178.80" y2="608.60" stroke-width="1.35"/>
<polyline points="179.60,610.30 193.40,610.30 193.40,598.80" fill="none" stroke-width="1.35"/>
<text x="187.80" y="598.00" font-size="12.8" text-anchor="start">I<tspan font-size="8.6">O</tspan></text>
<line x1="242.40" y1="526.10" x2="242.40" y2="535.20" stroke-width="1.35"/>
<line x1="233.20" y1="535.20" x2="251.60" y2="535.20" stroke-width="1.35"/>
<line x1="236.90" y1="539.80" x2="247.90" y2="539.80" stroke-width="1.35"/>
<polyline points="242.40,539.80 242.40,549.30 266.80,549.30" fill="none" stroke-width="1.35"/>
<text x="224.90" y="559.60" font-size="13.2" text-anchor="start">V<tspan font-size="9.0">UVREF</tspan></text>
<polyline points="266.80,598.30 242.40,598.30 242.40,607.30" fill="none" stroke-width="1.35"/>
<line x1="233.20" y1="607.30" x2="251.60" y2="607.30" stroke-width="1.35"/>
<line x1="236.90" y1="611.90" x2="247.90" y2="611.90" stroke-width="1.35"/>
<line x1="242.40" y1="611.90" x2="242.40" y2="622.30" stroke-width="1.35"/>
<text x="224.90" y="583.70" font-size="13.2" text-anchor="start">V<tspan font-size="9.0">OVREF</tspan></text>
<circle cx="132.30" cy="658.20" r="2.95" fill="#000" stroke="none"/>
<line x1="132.30" y1="658.20" x2="266.80" y2="658.20" stroke-width="1.35"/>
<circle cx="107.90" cy="682.20" r="2.95" fill="#000" stroke="none"/>
<line x1="107.90" y1="682.20" x2="266.80" y2="682.20" stroke-width="1.35"/>
<circle cx="156.80" cy="658.20" r="2.95" fill="#000" stroke="none"/>
<circle cx="156.80" cy="682.20" r="2.95" fill="#000" stroke="none"/>
<polyline points="107.90,630.90 115.90,632.70 99.90,635.70 115.90,638.90 99.90,641.80 115.90,644.90 99.90,647.90 107.90,649.30" fill="none" stroke-width="1.35"/>
<line x1="112.50" y1="632.70" x2="116.20" y2="632.70" stroke-width="1.5"/>
<line x1="99.60" y1="635.70" x2="103.30" y2="635.70" stroke-width="1.5"/>
<line x1="112.50" y1="638.90" x2="116.20" y2="638.90" stroke-width="1.5"/>
<line x1="99.60" y1="641.80" x2="103.30" y2="641.80" stroke-width="1.5"/>
<line x1="112.50" y1="644.90" x2="116.20" y2="644.90" stroke-width="1.5"/>
<line x1="99.60" y1="647.90" x2="103.30" y2="647.90" stroke-width="1.5"/>
<polyline points="132.30,630.90 140.30,632.70 124.30,635.70 140.30,638.90 124.30,641.80 140.30,644.90 124.30,647.90 132.30,649.30" fill="none" stroke-width="1.35"/>
<line x1="136.90" y1="632.70" x2="140.60" y2="632.70" stroke-width="1.5"/>
<line x1="124.00" y1="635.70" x2="127.70" y2="635.70" stroke-width="1.5"/>
<line x1="136.90" y1="638.90" x2="140.60" y2="638.90" stroke-width="1.5"/>
<line x1="124.00" y1="641.80" x2="127.70" y2="641.80" stroke-width="1.5"/>
<line x1="136.90" y1="644.90" x2="140.60" y2="644.90" stroke-width="1.5"/>
<line x1="124.00" y1="647.90" x2="127.70" y2="647.90" stroke-width="1.5"/>
<polyline points="107.90,691.10 115.90,692.90 99.90,695.90 115.90,699.10 99.90,702.00 115.90,705.10 99.90,708.10 107.90,709.70" fill="none" stroke-width="1.35"/>
<line x1="112.50" y1="692.90" x2="116.20" y2="692.90" stroke-width="1.5"/>
<line x1="99.60" y1="695.90" x2="103.30" y2="695.90" stroke-width="1.5"/>
<line x1="112.50" y1="699.10" x2="116.20" y2="699.10" stroke-width="1.5"/>
<line x1="99.60" y1="702.00" x2="103.30" y2="702.00" stroke-width="1.5"/>
<line x1="112.50" y1="705.10" x2="116.20" y2="705.10" stroke-width="1.5"/>
<line x1="99.60" y1="708.10" x2="103.30" y2="708.10" stroke-width="1.5"/>
<polyline points="132.30,691.10 140.30,692.90 124.30,695.90 140.30,699.10 124.30,702.00 140.30,705.10 124.30,708.10 132.30,709.70" fill="none" stroke-width="1.35"/>
<line x1="136.90" y1="692.90" x2="140.60" y2="692.90" stroke-width="1.5"/>
<line x1="124.00" y1="695.90" x2="127.70" y2="695.90" stroke-width="1.5"/>
<line x1="136.90" y1="699.10" x2="140.60" y2="699.10" stroke-width="1.5"/>
<line x1="124.00" y1="702.00" x2="127.70" y2="702.00" stroke-width="1.5"/>
<line x1="136.90" y1="705.10" x2="140.60" y2="705.10" stroke-width="1.5"/>
<line x1="124.00" y1="708.10" x2="127.70" y2="708.10" stroke-width="1.5"/>
<line x1="107.90" y1="622.30" x2="107.90" y2="630.90" stroke-width="1.35"/>
<line x1="107.90" y1="649.30" x2="107.90" y2="691.10" stroke-width="1.35"/>
<line x1="107.90" y1="709.70" x2="107.90" y2="718.40" stroke-width="1.35"/>
<line x1="132.30" y1="622.30" x2="132.30" y2="630.90" stroke-width="1.35"/>
<line x1="132.30" y1="649.30" x2="132.30" y2="691.10" stroke-width="1.35"/>
<line x1="132.30" y1="709.70" x2="132.30" y2="718.40" stroke-width="1.35"/>
<polygon points="266.80,634.30 291.60,651.80 266.80,669.30" fill="none" stroke-width="1.35"/>
<line x1="269.60" y1="645.50" x2="277.10" y2="645.50" stroke-width="1.6"/>
<line x1="273.35" y1="641.70" x2="273.35" y2="649.30" stroke-width="1.6"/>
<line x1="268.00" y1="658.20" x2="277.00" y2="658.20" stroke-width="1.0"/>
<polygon points="266.80,670.30 291.60,688.25 266.80,706.20" fill="none" stroke-width="1.35"/>
<line x1="269.60" y1="682.20" x2="277.10" y2="682.20" stroke-width="1.6"/>
<line x1="273.35" y1="678.40" x2="273.35" y2="686.00" stroke-width="1.6"/>
<line x1="268.00" y1="694.50" x2="277.00" y2="694.50" stroke-width="1.0"/>
<line x1="291.60" y1="651.80" x2="325.60" y2="651.80" stroke-width="1.35"/>
<line x1="291.60" y1="688.25" x2="325.60" y2="688.25" stroke-width="1.35"/>
<text x="285.70" y="643.10" font-size="13.2" text-anchor="start">UVC6</text>
<text x="285.70" y="705.90" font-size="13.2" text-anchor="start">OVC6</text>
<circle cx="156.80" cy="658.20" r="2.95" fill="#000" stroke="none"/>
<polyline points="156.80,658.20 156.80,636.30 157.40,634.90 158.70,634.30" fill="none" stroke-width="1.35"/>
<circle cx="160.60" cy="634.30" r="1.9" fill="none" stroke-width="1.25"/>
<circle cx="177.70" cy="634.30" r="1.9" fill="none" stroke-width="1.25"/>
<line x1="160.00" y1="627.70" x2="178.80" y2="632.60" stroke-width="1.35"/>
<polyline points="179.60,634.30 193.40,634.30 193.40,645.30" fill="none" stroke-width="1.35"/>
<text x="185.20" y="657.00" font-size="12.8" text-anchor="start">I<tspan font-size="8.6">UX</tspan></text>
<circle cx="156.80" cy="682.20" r="2.95" fill="#000" stroke="none"/>
<polyline points="156.80,682.20 156.80,704.50 157.40,705.90 158.70,706.50" fill="none" stroke-width="1.35"/>
<circle cx="160.60" cy="706.50" r="1.9" fill="none" stroke-width="1.25"/>
<circle cx="177.70" cy="706.50" r="1.9" fill="none" stroke-width="1.25"/>
<line x1="160.00" y1="699.90" x2="178.80" y2="704.80" stroke-width="1.35"/>
<polyline points="179.60,706.50 193.40,706.50 193.40,695.00" fill="none" stroke-width="1.35"/>
<text x="187.80" y="694.20" font-size="12.8" text-anchor="start">I<tspan font-size="8.6">O</tspan></text>
<polyline points="266.80,694.50 242.40,694.50 242.40,703.40" fill="none" stroke-width="1.35"/>
<line x1="233.20" y1="703.40" x2="251.60" y2="703.40" stroke-width="1.35"/>
<line x1="236.90" y1="708.00" x2="247.90" y2="708.00" stroke-width="1.35"/>
<line x1="242.40" y1="708.00" x2="242.40" y2="718.40" stroke-width="1.35"/>
<text x="224.90" y="679.90" font-size="13.2" text-anchor="start">V<tspan font-size="9.0">OVREF</tspan></text>
<line x1="46.60" y1="141.50" x2="242.40" y2="141.50" stroke-width="1.35"/>
<circle cx="107.90" cy="141.50" r="2.95" fill="#000" stroke="none"/>
<circle cx="132.30" cy="141.50" r="2.95" fill="#000" stroke="none"/>
<rect x="43.45" y="138.35" width="6.30" height="6.30" fill="#fff" stroke-width="1.35"/>
<line x1="46.60" y1="237.60" x2="242.40" y2="237.60" stroke-width="1.35"/>
<circle cx="107.90" cy="237.60" r="2.95" fill="#000" stroke="none"/>
<circle cx="132.30" cy="237.60" r="2.95" fill="#000" stroke="none"/>
<rect x="43.45" y="234.45" width="6.30" height="6.30" fill="#fff" stroke-width="1.35"/>
<line x1="46.60" y1="333.70" x2="242.40" y2="333.70" stroke-width="1.35"/>
<circle cx="107.90" cy="333.70" r="2.95" fill="#000" stroke="none"/>
<circle cx="132.30" cy="333.70" r="2.95" fill="#000" stroke="none"/>
<rect x="43.45" y="330.55" width="6.30" height="6.30" fill="#fff" stroke-width="1.35"/>
<line x1="46.60" y1="429.90" x2="242.40" y2="429.90" stroke-width="1.35"/>
<circle cx="107.90" cy="429.90" r="2.95" fill="#000" stroke="none"/>
<circle cx="132.30" cy="429.90" r="2.95" fill="#000" stroke="none"/>
<rect x="43.45" y="426.75" width="6.30" height="6.30" fill="#fff" stroke-width="1.35"/>
<line x1="46.60" y1="526.10" x2="242.40" y2="526.10" stroke-width="1.35"/>
<circle cx="107.90" cy="526.10" r="2.95" fill="#000" stroke="none"/>
<circle cx="132.30" cy="526.10" r="2.95" fill="#000" stroke="none"/>
<rect x="43.45" y="522.95" width="6.30" height="6.30" fill="#fff" stroke-width="1.35"/>
<line x1="46.60" y1="622.30" x2="242.40" y2="622.30" stroke-width="1.35"/>
<circle cx="107.90" cy="622.30" r="2.95" fill="#000" stroke="none"/>
<circle cx="132.30" cy="622.30" r="2.95" fill="#000" stroke="none"/>
<rect x="43.45" y="619.15" width="6.30" height="6.30" fill="#fff" stroke-width="1.35"/>
<line x1="46.60" y1="718.40" x2="242.40" y2="718.40" stroke-width="1.35"/>
<circle cx="107.90" cy="718.40" r="2.95" fill="#000" stroke="none"/>
<circle cx="132.30" cy="718.40" r="2.95" fill="#000" stroke="none"/>
<rect x="43.45" y="715.25" width="6.30" height="6.30" fill="#fff" stroke-width="1.35"/>
<text x="35.20" y="146.80" font-size="13.2" text-anchor="end">VC1</text>
<text x="35.20" y="242.90" font-size="13.2" text-anchor="end">VC2</text>
<text x="35.20" y="339.00" font-size="13.2" text-anchor="end">VC3</text>
<text x="35.20" y="435.20" font-size="13.2" text-anchor="end">VC4</text>
<text x="35.20" y="531.40" font-size="13.2" text-anchor="end">VC5</text>
<text x="35.20" y="627.60" font-size="13.2" text-anchor="end">VC6</text>
<text x="35.20" y="723.70" font-size="13.2" text-anchor="end">VSS</text>
<circle cx="242.40" cy="429.90" r="2.95" fill="#000" stroke="none"/>
<circle cx="242.40" cy="526.10" r="2.95" fill="#000" stroke="none"/>
<polyline points="266.80,645.50 218.30,645.50 218.30,703.80" fill="none" stroke-width="1.35"/>
<line x1="209.10" y1="703.80" x2="227.50" y2="703.80" stroke-width="1.35"/>
<line x1="212.80" y1="708.50" x2="223.80" y2="708.50" stroke-width="1.35"/>
<line x1="218.30" y1="708.50" x2="218.30" y2="718.40" stroke-width="1.35"/>
<circle cx="218.30" cy="718.40" r="2.95" fill="#000" stroke="none"/>
<text x="224.90" y="643.60" font-size="13.2" text-anchor="start">V<tspan font-size="9.0">UVREF</tspan></text>
<polygon points="71.20,153.50 64.80,165.70 77.60,165.70" fill="#000" stroke="#000" stroke-width="0.6"/>
<line x1="65.00" y1="153.50" x2="77.40" y2="153.50" stroke-width="1.35"/>
<line x1="71.20" y1="141.50" x2="71.20" y2="153.50" stroke-width="1.35"/>
<circle cx="71.20" cy="141.50" r="2.95" fill="#000" stroke="none"/>
<line x1="71.20" y1="165.70" x2="71.20" y2="177.80" stroke-width="1.35"/>
<line x1="63.40" y1="177.80" x2="79.00" y2="177.80" stroke-width="1.35"/>
<line x1="68.30" y1="178.10" x2="65.10" y2="183.20" stroke-width="1.2"/>
<line x1="72.80" y1="178.10" x2="69.60" y2="183.20" stroke-width="1.2"/>
<line x1="77.30" y1="178.10" x2="74.10" y2="183.20" stroke-width="1.2"/>
<circle cx="71.20" cy="237.60" r="2.95" fill="#000" stroke="none"/>
<line x1="71.20" y1="237.60" x2="71.20" y2="226.40" stroke-width="1.35"/>
<polygon points="71.20,213.70 64.80,226.40 77.60,226.40" fill="#000" stroke="#000" stroke-width="0.6"/>
<line x1="65.00" y1="213.70" x2="77.40" y2="213.70" stroke-width="1.35"/>
<line x1="71.20" y1="213.70" x2="71.20" y2="210.40" stroke-width="1.35"/>
<polygon points="71.20,202.10 67.20,210.40 75.20,210.40" fill="#000" stroke="#000" stroke-width="0.6"/>
<circle cx="71.20" cy="333.70" r="2.95" fill="#000" stroke="none"/>
<line x1="71.20" y1="333.70" x2="71.20" y2="322.50" stroke-width="1.35"/>
<polygon points="71.20,309.80 64.80,322.50 77.60,322.50" fill="#000" stroke="#000" stroke-width="0.6"/>
<line x1="65.00" y1="309.80" x2="77.40" y2="309.80" stroke-width="1.35"/>
<line x1="71.20" y1="309.80" x2="71.20" y2="306.50" stroke-width="1.35"/>
<polygon points="71.20,298.20 67.20,306.50 75.20,306.50" fill="#000" stroke="#000" stroke-width="0.6"/>
<circle cx="71.20" cy="429.90" r="2.95" fill="#000" stroke="none"/>
<line x1="71.20" y1="429.90" x2="71.20" y2="418.70" stroke-width="1.35"/>
<polygon points="71.20,406.00 64.80,418.70 77.60,418.70" fill="#000" stroke="#000" stroke-width="0.6"/>
<line x1="65.00" y1="406.00" x2="77.40" y2="406.00" stroke-width="1.35"/>
<line x1="71.20" y1="406.00" x2="71.20" y2="402.70" stroke-width="1.35"/>
<polygon points="71.20,394.40 67.20,402.70 75.20,402.70" fill="#000" stroke="#000" stroke-width="0.6"/>
<circle cx="71.20" cy="526.10" r="2.95" fill="#000" stroke="none"/>
<line x1="71.20" y1="526.10" x2="71.20" y2="514.90" stroke-width="1.35"/>
<polygon points="71.20,502.20 64.80,514.90 77.60,514.90" fill="#000" stroke="#000" stroke-width="0.6"/>
<line x1="65.00" y1="502.20" x2="77.40" y2="502.20" stroke-width="1.35"/>
<line x1="71.20" y1="502.20" x2="71.20" y2="498.90" stroke-width="1.35"/>
<polygon points="71.20,490.60 67.20,498.90 75.20,498.90" fill="#000" stroke="#000" stroke-width="0.6"/>
<circle cx="71.20" cy="622.30" r="2.95" fill="#000" stroke="none"/>
<line x1="71.20" y1="622.30" x2="71.20" y2="611.10" stroke-width="1.35"/>
<polygon points="71.20,598.40 64.80,611.10 77.60,611.10" fill="#000" stroke="#000" stroke-width="0.6"/>
<line x1="65.00" y1="598.40" x2="77.40" y2="598.40" stroke-width="1.35"/>
<line x1="71.20" y1="598.40" x2="71.20" y2="595.10" stroke-width="1.35"/>
<polygon points="71.20,586.80 67.20,595.10 75.20,595.10" fill="#000" stroke="#000" stroke-width="0.6"/>
<circle cx="71.20" cy="718.40" r="2.95" fill="#000" stroke="none"/>
<line x1="71.20" y1="718.40" x2="71.20" y2="707.20" stroke-width="1.35"/>
<polygon points="71.20,694.50 64.80,707.20 77.60,707.20" fill="#000" stroke="#000" stroke-width="0.6"/>
<line x1="65.00" y1="694.50" x2="77.40" y2="694.50" stroke-width="1.35"/>
<line x1="71.20" y1="694.50" x2="71.20" y2="691.20" stroke-width="1.35"/>
<polygon points="71.20,682.90 67.20,691.20 75.20,691.20" fill="#000" stroke="#000" stroke-width="0.6"/>
<line x1="71.20" y1="718.40" x2="71.20" y2="755.50" stroke-width="1.35"/>
<line x1="63.40" y1="755.50" x2="79.00" y2="755.50" stroke-width="1.35"/>
<line x1="68.30" y1="755.80" x2="65.10" y2="760.90" stroke-width="1.2"/>
<line x1="72.80" y1="755.80" x2="69.60" y2="760.90" stroke-width="1.2"/>
<line x1="77.30" y1="755.80" x2="74.10" y2="760.90" stroke-width="1.2"/>
<line x1="169.20" y1="166.40" x2="169.20" y2="730.60" stroke-width="1.35"/>
<polyline points="169.20,730.60 325.60,730.60" fill="none" stroke-width="1.35"/>
<polygon points="169.20,166.40 166.80,171.00 171.60,171.00" fill="#000" stroke="#000" stroke-width="0.6"/>
<polygon points="169.20,226.40 166.80,231.00 171.60,231.00" fill="#000" stroke="#000" stroke-width="0.6"/>
<polygon points="169.20,262.50 166.80,267.10 171.60,267.10" fill="#000" stroke="#000" stroke-width="0.6"/>
<polygon points="169.20,322.50 166.80,327.10 171.60,327.10" fill="#000" stroke="#000" stroke-width="0.6"/>
<polygon points="169.20,358.60 166.80,363.20 171.60,363.20" fill="#000" stroke="#000" stroke-width="0.6"/>
<polygon points="169.20,419.50 166.80,424.10 171.60,424.10" fill="#000" stroke="#000" stroke-width="0.6"/>
<polygon points="169.20,454.80 166.80,459.40 171.60,459.40" fill="#000" stroke="#000" stroke-width="0.6"/>
<polygon points="169.20,515.70 166.80,520.30 171.60,520.30" fill="#000" stroke="#000" stroke-width="0.6"/>
<polygon points="169.20,551.00 166.80,555.60 171.60,555.60" fill="#000" stroke="#000" stroke-width="0.6"/>
<polygon points="169.20,611.90 166.80,616.50 171.60,616.50" fill="#000" stroke="#000" stroke-width="0.6"/>
<polygon points="169.20,636.20 166.80,640.80 171.60,640.80" fill="#000" stroke="#000" stroke-width="0.6"/>
<polygon points="169.20,708.10 166.80,712.70 171.60,712.70" fill="#000" stroke="#000" stroke-width="0.6"/>
<rect x="557.85" y="150.25" width="6.30" height="6.30" fill="#fff" stroke-width="1.35"/>
<text x="569.40" y="158.70" font-size="13.2" text-anchor="start">RSTO</text>
<polyline points="561.00,153.40 474.90,153.40 474.90,165.30 456.20,165.30" fill="none" stroke-width="1.35"/>
<line x1="456.20" y1="165.30" x2="456.20" y2="188.80" stroke-width="1.35"/>
<line x1="450.60" y1="165.30" x2="450.60" y2="188.80" stroke-width="1.35"/>
<line x1="423.50" y1="177.60" x2="450.60" y2="177.60" stroke-width="1.35"/>
<polyline points="456.20,188.80 475.50,188.80 475.50,201.30" fill="none" stroke-width="1.35"/>
<circle cx="475.50" cy="188.90" r="2.95" fill="#000" stroke="none"/>
<line x1="467.70" y1="201.30" x2="483.30" y2="201.30" stroke-width="1.35"/>
<line x1="469.40" y1="201.60" x2="472.60" y2="206.70" stroke-width="1.2"/>
<line x1="473.90" y1="201.60" x2="477.10" y2="206.70" stroke-width="1.2"/>
<line x1="478.40" y1="201.60" x2="481.60" y2="206.70" stroke-width="1.2"/>
<polyline points="464.80,177.60 474.90,177.60 474.90,188.80" fill="none" stroke-width="1.35"/>
<polygon points="456.90,177.60 464.80,173.90 464.80,181.30" fill="#000" stroke="#000" stroke-width="0.6"/>
<circle cx="536.30" cy="153.40" r="2.95" fill="#000" stroke="none"/>
<line x1="536.30" y1="153.40" x2="536.30" y2="165.40" stroke-width="1.35"/>
<polygon points="536.30,165.40 529.90,177.90 542.70,177.90" fill="#000" stroke="#000" stroke-width="0.6"/>
<line x1="530.10" y1="165.40" x2="542.50" y2="165.40" stroke-width="1.35"/>
<line x1="536.30" y1="177.90" x2="536.30" y2="190.40" stroke-width="1.35"/>
<line x1="528.50" y1="190.40" x2="544.10" y2="190.40" stroke-width="1.35"/>
<line x1="533.40" y1="190.70" x2="530.20" y2="195.80" stroke-width="1.2"/>
<line x1="537.90" y1="190.70" x2="534.70" y2="195.80" stroke-width="1.2"/>
<line x1="542.40" y1="190.70" x2="539.20" y2="195.80" stroke-width="1.2"/>
<line x1="536.30" y1="153.40" x2="536.30" y2="135.30" stroke-width="1.35"/>
<polyline points="536.30,122.40 544.10,123.66 528.50,125.77 544.10,128.01 528.50,130.04 544.10,132.22 528.50,134.32 536.30,135.30" fill="none" stroke-width="1.35"/>
<line x1="540.70" y1="123.66" x2="544.40" y2="123.66" stroke-width="1.5"/>
<line x1="528.20" y1="125.77" x2="531.90" y2="125.77" stroke-width="1.5"/>
<line x1="540.70" y1="128.01" x2="544.40" y2="128.01" stroke-width="1.5"/>
<line x1="528.20" y1="130.04" x2="531.90" y2="130.04" stroke-width="1.5"/>
<line x1="540.70" y1="132.22" x2="544.40" y2="132.22" stroke-width="1.5"/>
<line x1="528.20" y1="134.32" x2="531.90" y2="134.32" stroke-width="1.5"/>
<line x1="536.30" y1="122.40" x2="536.30" y2="114.00" stroke-width="1.35"/>
<polygon points="536.30,105.60 532.40,114.00 540.20,114.00" fill="#000" stroke="#000" stroke-width="0.6"/>
<polygon points="450.60,249.80 487.60,225.60 487.60,274.00" fill="none" stroke-width="1.35"/>
<line x1="423.50" y1="249.80" x2="450.60" y2="249.80" stroke-width="1.35"/>
<line x1="487.60" y1="249.80" x2="561.00" y2="249.80" stroke-width="1.35"/>
<line x1="468.90" y1="237.83" x2="468.90" y2="223.80" stroke-width="1.35"/>
<polygon points="468.90,215.80 465.00,224.00 472.80,224.00" fill="#000" stroke="#000" stroke-width="0.6"/>
<line x1="468.90" y1="261.77" x2="468.90" y2="276.00" stroke-width="1.35"/>
<line x1="461.10" y1="276.00" x2="476.70" y2="276.00" stroke-width="1.35"/>
<line x1="466.00" y1="276.30" x2="462.80" y2="281.40" stroke-width="1.2"/>
<line x1="470.50" y1="276.30" x2="467.30" y2="281.40" stroke-width="1.2"/>
<line x1="475.00" y1="276.30" x2="471.80" y2="281.40" stroke-width="1.2"/>
<rect x="557.85" y="246.65" width="6.30" height="6.30" fill="#fff" stroke-width="1.35"/>
<text x="569.40" y="255.10" font-size="13.2" text-anchor="start">CASI2</text>
<circle cx="536.30" cy="249.80" r="2.95" fill="#000" stroke="none"/>
<line x1="536.30" y1="249.80" x2="536.30" y2="261.80" stroke-width="1.35"/>
<polygon points="536.30,261.80 529.90,274.30 542.70,274.30" fill="#000" stroke="#000" stroke-width="0.6"/>
<line x1="530.10" y1="261.80" x2="542.50" y2="261.80" stroke-width="1.35"/>
<line x1="536.30" y1="274.30" x2="536.30" y2="285.80" stroke-width="1.35"/>
<line x1="528.50" y1="285.80" x2="544.10" y2="285.80" stroke-width="1.35"/>
<line x1="533.40" y1="286.10" x2="530.20" y2="291.20" stroke-width="1.2"/>
<line x1="537.90" y1="286.10" x2="534.70" y2="291.20" stroke-width="1.2"/>
<line x1="542.40" y1="286.10" x2="539.20" y2="291.20" stroke-width="1.2"/>
<polygon points="450.60,321.50 487.60,297.30 487.60,345.70" fill="none" stroke-width="1.35"/>
<line x1="423.50" y1="321.50" x2="450.60" y2="321.50" stroke-width="1.35"/>
<line x1="487.60" y1="321.50" x2="561.00" y2="321.50" stroke-width="1.35"/>
<line x1="468.90" y1="309.53" x2="468.90" y2="295.50" stroke-width="1.35"/>
<polygon points="468.90,287.50 465.00,295.70 472.80,295.70" fill="#000" stroke="#000" stroke-width="0.6"/>
<line x1="468.90" y1="333.47" x2="468.90" y2="347.70" stroke-width="1.35"/>
<line x1="461.10" y1="347.70" x2="476.70" y2="347.70" stroke-width="1.35"/>
<line x1="466.00" y1="348.00" x2="462.80" y2="353.10" stroke-width="1.2"/>
<line x1="470.50" y1="348.00" x2="467.30" y2="353.10" stroke-width="1.2"/>
<line x1="475.00" y1="348.00" x2="471.80" y2="353.10" stroke-width="1.2"/>
<rect x="557.85" y="318.35" width="6.30" height="6.30" fill="#fff" stroke-width="1.35"/>
<text x="569.40" y="326.80" font-size="13.2" text-anchor="start">CASI1</text>
<circle cx="536.30" cy="321.50" r="2.95" fill="#000" stroke="none"/>
<line x1="536.30" y1="321.50" x2="536.30" y2="333.50" stroke-width="1.35"/>
<polygon points="536.30,333.50 529.90,346.00 542.70,346.00" fill="#000" stroke="#000" stroke-width="0.6"/>
<line x1="530.10" y1="333.50" x2="542.50" y2="333.50" stroke-width="1.35"/>
<line x1="536.30" y1="346.00" x2="536.30" y2="357.50" stroke-width="1.35"/>
<line x1="528.50" y1="357.50" x2="544.10" y2="357.50" stroke-width="1.35"/>
<line x1="533.40" y1="357.80" x2="530.20" y2="362.90" stroke-width="1.2"/>
<line x1="537.90" y1="357.80" x2="534.70" y2="362.90" stroke-width="1.2"/>
<line x1="542.40" y1="357.80" x2="539.20" y2="362.90" stroke-width="1.2"/>
<polygon points="450.60,417.80 487.60,393.60 487.60,442.00" fill="none" stroke-width="1.35"/>
<line x1="423.50" y1="417.80" x2="450.60" y2="417.80" stroke-width="1.35"/>
<line x1="487.60" y1="417.80" x2="561.00" y2="417.80" stroke-width="1.35"/>
<line x1="468.90" y1="405.83" x2="468.90" y2="391.80" stroke-width="1.35"/>
<polygon points="468.90,383.80 465.00,392.00 472.80,392.00" fill="#000" stroke="#000" stroke-width="0.6"/>
<line x1="468.90" y1="429.77" x2="468.90" y2="444.00" stroke-width="1.35"/>
<line x1="461.10" y1="444.00" x2="476.70" y2="444.00" stroke-width="1.35"/>
<line x1="466.00" y1="444.30" x2="462.80" y2="449.40" stroke-width="1.2"/>
<line x1="470.50" y1="444.30" x2="467.30" y2="449.40" stroke-width="1.2"/>
<line x1="475.00" y1="444.30" x2="471.80" y2="449.40" stroke-width="1.2"/>
<rect x="557.85" y="414.65" width="6.30" height="6.30" fill="#fff" stroke-width="1.35"/>
<text x="569.40" y="423.10" font-size="13.2" text-anchor="start">SEL1</text>
<circle cx="536.30" cy="417.80" r="2.95" fill="#000" stroke="none"/>
<line x1="536.30" y1="417.80" x2="536.30" y2="429.80" stroke-width="1.35"/>
<polygon points="536.30,429.80 529.90,442.30 542.70,442.30" fill="#000" stroke="#000" stroke-width="0.6"/>
<line x1="530.10" y1="429.80" x2="542.50" y2="429.80" stroke-width="1.35"/>
<line x1="536.30" y1="442.30" x2="536.30" y2="454.10" stroke-width="1.35"/>
<line x1="528.50" y1="454.10" x2="544.10" y2="454.10" stroke-width="1.35"/>
<line x1="533.40" y1="454.40" x2="530.20" y2="459.50" stroke-width="1.2"/>
<line x1="537.90" y1="454.40" x2="534.70" y2="459.50" stroke-width="1.2"/>
<line x1="542.40" y1="454.40" x2="539.20" y2="459.50" stroke-width="1.2"/>
<circle cx="511.60" cy="417.80" r="2.95" fill="#000" stroke="none"/>
<line x1="511.60" y1="417.80" x2="511.60" y2="431.50" stroke-width="1.35"/>
<circle cx="511.60" cy="441.40" r="9.8" fill="none" stroke-width="1.35"/>
<line x1="511.60" y1="431.50" x2="511.60" y2="441.80" stroke-width="1.35"/>
<polygon points="511.60,448.60 507.90,441.40 515.30,441.40" fill="#000" stroke="#000" stroke-width="0.6"/>
<line x1="511.60" y1="451.20" x2="511.60" y2="454.10" stroke-width="1.35"/>
<line x1="503.80" y1="454.10" x2="519.40" y2="454.10" stroke-width="1.35"/>
<line x1="508.70" y1="454.40" x2="505.50" y2="459.50" stroke-width="1.2"/>
<line x1="513.20" y1="454.40" x2="510.00" y2="459.50" stroke-width="1.2"/>
<line x1="517.70" y1="454.40" x2="514.50" y2="459.50" stroke-width="1.2"/>
<polygon points="450.60,490.10 487.60,465.90 487.60,514.30" fill="none" stroke-width="1.35"/>
<line x1="423.50" y1="490.10" x2="450.60" y2="490.10" stroke-width="1.35"/>
<line x1="487.60" y1="490.10" x2="561.00" y2="490.10" stroke-width="1.35"/>
<line x1="468.90" y1="478.13" x2="468.90" y2="464.10" stroke-width="1.35"/>
<polygon points="468.90,456.10 465.00,464.30 472.80,464.30" fill="#000" stroke="#000" stroke-width="0.6"/>
<line x1="468.90" y1="502.07" x2="468.90" y2="516.30" stroke-width="1.35"/>
<line x1="461.10" y1="516.30" x2="476.70" y2="516.30" stroke-width="1.35"/>
<line x1="466.00" y1="516.60" x2="462.80" y2="521.70" stroke-width="1.2"/>
<line x1="470.50" y1="516.60" x2="467.30" y2="521.70" stroke-width="1.2"/>
<line x1="475.00" y1="516.60" x2="471.80" y2="521.70" stroke-width="1.2"/>
<rect x="557.85" y="486.95" width="6.30" height="6.30" fill="#fff" stroke-width="1.35"/>
<text x="569.40" y="495.40" font-size="13.2" text-anchor="start">SEL2</text>
<circle cx="536.30" cy="490.10" r="2.95" fill="#000" stroke="none"/>
<line x1="536.30" y1="490.10" x2="536.30" y2="502.10" stroke-width="1.35"/>
<polygon points="536.30,502.10 529.90,514.60 542.70,514.60" fill="#000" stroke="#000" stroke-width="0.6"/>
<line x1="530.10" y1="502.10" x2="542.50" y2="502.10" stroke-width="1.35"/>
<line x1="536.30" y1="514.60" x2="536.30" y2="526.40" stroke-width="1.35"/>
<line x1="528.50" y1="526.40" x2="544.10" y2="526.40" stroke-width="1.35"/>
<line x1="533.40" y1="526.70" x2="530.20" y2="531.80" stroke-width="1.2"/>
<line x1="537.90" y1="526.70" x2="534.70" y2="531.80" stroke-width="1.2"/>
<line x1="542.40" y1="526.70" x2="539.20" y2="531.80" stroke-width="1.2"/>
<circle cx="511.60" cy="490.10" r="2.95" fill="#000" stroke="none"/>
<line x1="511.60" y1="490.10" x2="511.60" y2="503.80" stroke-width="1.35"/>
<circle cx="511.60" cy="513.70" r="9.8" fill="none" stroke-width="1.35"/>
<line x1="511.60" y1="503.80" x2="511.60" y2="514.10" stroke-width="1.35"/>
<polygon points="511.60,520.90 507.90,513.70 515.30,513.70" fill="#000" stroke="#000" stroke-width="0.6"/>
<line x1="511.60" y1="523.50" x2="511.60" y2="526.40" stroke-width="1.35"/>
<line x1="503.80" y1="526.40" x2="519.40" y2="526.40" stroke-width="1.35"/>
<line x1="508.70" y1="526.70" x2="505.50" y2="531.80" stroke-width="1.2"/>
<line x1="513.20" y1="526.70" x2="510.00" y2="531.80" stroke-width="1.2"/>
<line x1="517.70" y1="526.70" x2="514.50" y2="531.80" stroke-width="1.2"/>
<polygon points="450.60,562.40 487.60,586.20 450.60,610.00" fill="none" stroke-width="1.35"/>
<line x1="423.50" y1="586.20" x2="450.60" y2="586.20" stroke-width="1.35"/>
<line x1="487.60" y1="586.20" x2="561.00" y2="586.20" stroke-width="1.35"/>
<line x1="468.90" y1="574.17" x2="468.90" y2="560.20" stroke-width="1.35"/>
<polygon points="468.90,552.20 465.00,560.40 472.80,560.40" fill="#000" stroke="#000" stroke-width="0.6"/>
<line x1="468.90" y1="598.23" x2="468.90" y2="612.60" stroke-width="1.35"/>
<line x1="461.10" y1="612.60" x2="476.70" y2="612.60" stroke-width="1.35"/>
<line x1="466.00" y1="612.90" x2="462.80" y2="618.00" stroke-width="1.2"/>
<line x1="470.50" y1="612.90" x2="467.30" y2="618.00" stroke-width="1.2"/>
<line x1="475.00" y1="612.90" x2="471.80" y2="618.00" stroke-width="1.2"/>
<rect x="557.85" y="583.05" width="6.30" height="6.30" fill="#fff" stroke-width="1.35"/>
<text x="569.40" y="591.50" font-size="13.2" text-anchor="start">OUT1</text>
<circle cx="536.30" cy="586.20" r="2.95" fill="#000" stroke="none"/>
<line x1="536.30" y1="586.20" x2="536.30" y2="575.70" stroke-width="1.35"/>
<polygon points="536.30,563.20 529.90,575.70 542.70,575.70" fill="#000" stroke="#000" stroke-width="0.6"/>
<line x1="530.10" y1="563.20" x2="542.50" y2="563.20" stroke-width="1.35"/>
<line x1="536.30" y1="563.20" x2="536.30" y2="560.20" stroke-width="1.35"/>
<polygon points="536.30,552.00 532.30,560.30 540.30,560.30" fill="#000" stroke="#000" stroke-width="0.6"/>
<polygon points="450.60,634.70 487.60,658.50 450.60,682.30" fill="none" stroke-width="1.35"/>
<line x1="423.50" y1="658.50" x2="450.60" y2="658.50" stroke-width="1.35"/>
<line x1="487.60" y1="658.50" x2="561.00" y2="658.50" stroke-width="1.35"/>
<line x1="468.90" y1="646.47" x2="468.90" y2="632.50" stroke-width="1.35"/>
<polygon points="468.90,624.50 465.00,632.70 472.80,632.70" fill="#000" stroke="#000" stroke-width="0.6"/>
<line x1="468.90" y1="670.53" x2="468.90" y2="684.90" stroke-width="1.35"/>
<line x1="461.10" y1="684.90" x2="476.70" y2="684.90" stroke-width="1.35"/>
<line x1="466.00" y1="685.20" x2="462.80" y2="690.30" stroke-width="1.2"/>
<line x1="470.50" y1="685.20" x2="467.30" y2="690.30" stroke-width="1.2"/>
<line x1="475.00" y1="685.20" x2="471.80" y2="690.30" stroke-width="1.2"/>
<rect x="557.85" y="655.35" width="6.30" height="6.30" fill="#fff" stroke-width="1.35"/>
<text x="569.40" y="663.80" font-size="13.2" text-anchor="start">OUT2</text>
<circle cx="536.30" cy="658.50" r="2.95" fill="#000" stroke="none"/>
<line x1="536.30" y1="658.50" x2="536.30" y2="648.00" stroke-width="1.35"/>
<polygon points="536.30,635.50 529.90,648.00 542.70,648.00" fill="#000" stroke="#000" stroke-width="0.6"/>
<line x1="530.10" y1="635.50" x2="542.50" y2="635.50" stroke-width="1.35"/>
<line x1="536.30" y1="635.50" x2="536.30" y2="632.50" stroke-width="1.35"/>
<polygon points="536.30,624.30 532.30,632.60 540.30,632.60" fill="#000" stroke="#000" stroke-width="0.6"/>
<polygon points="450.60,729.90 487.60,706.50 487.60,753.30" fill="none" stroke-width="1.35"/>
<line x1="423.50" y1="729.90" x2="450.60" y2="729.90" stroke-width="1.35"/>
<line x1="487.60" y1="729.90" x2="561.00" y2="729.90" stroke-width="1.35"/>
<line x1="468.90" y1="718.33" x2="468.90" y2="703.90" stroke-width="1.35"/>
<polygon points="468.90,695.90 465.00,704.10 472.80,704.10" fill="#000" stroke="#000" stroke-width="0.6"/>
<line x1="468.90" y1="741.47" x2="468.90" y2="755.30" stroke-width="1.35"/>
<line x1="461.10" y1="755.30" x2="476.70" y2="755.30" stroke-width="1.35"/>
<line x1="462.80" y1="755.60" x2="466.00" y2="760.70" stroke-width="1.2"/>
<line x1="467.30" y1="755.60" x2="470.50" y2="760.70" stroke-width="1.2"/>
<line x1="471.80" y1="755.60" x2="475.00" y2="760.70" stroke-width="1.2"/>
<rect x="557.85" y="726.75" width="6.30" height="6.30" fill="#fff" stroke-width="1.35"/>
<text x="569.40" y="735.20" font-size="13.2" text-anchor="start">RSTI</text>
<circle cx="536.30" cy="729.90" r="2.95" fill="#000" stroke="none"/>
<line x1="536.30" y1="729.90" x2="536.30" y2="719.40" stroke-width="1.35"/>
<polygon points="536.30,706.90 529.90,719.40 542.70,719.40" fill="#000" stroke="#000" stroke-width="0.6"/>
<line x1="530.10" y1="706.90" x2="542.50" y2="706.90" stroke-width="1.35"/>
<line x1="536.30" y1="706.90" x2="536.30" y2="703.90" stroke-width="1.35"/>
<polygon points="536.30,695.70 532.30,704.00 540.30,704.00" fill="#000" stroke="#000" stroke-width="0.6"/>
<line x1="536.30" y1="729.90" x2="536.30" y2="736.30" stroke-width="1.35"/>
<polyline points="536.30,736.30 544.10,737.49 528.50,739.48 544.10,741.60 528.50,743.53 544.10,745.58 528.50,747.57 536.30,748.50" fill="none" stroke-width="1.35"/>
<line x1="540.70" y1="737.49" x2="544.40" y2="737.49" stroke-width="1.5"/>
<line x1="528.20" y1="739.48" x2="531.90" y2="739.48" stroke-width="1.5"/>
<line x1="540.70" y1="741.60" x2="544.40" y2="741.60" stroke-width="1.5"/>
<line x1="528.20" y1="743.53" x2="531.90" y2="743.53" stroke-width="1.5"/>
<line x1="540.70" y1="745.58" x2="544.40" y2="745.58" stroke-width="1.5"/>
<line x1="528.20" y1="747.57" x2="531.90" y2="747.57" stroke-width="1.5"/>
<line x1="536.30" y1="748.50" x2="536.30" y2="763.90" stroke-width="1.35"/>
<line x1="527.30" y1="763.90" x2="545.30" y2="763.90" stroke-width="1.35"/>
<line x1="531.30" y1="768.70" x2="541.30" y2="768.70" stroke-width="1.35"/>
<line x1="536.30" y1="768.70" x2="536.30" y2="778.20" stroke-width="1.35"/>
<line x1="528.50" y1="778.20" x2="544.10" y2="778.20" stroke-width="1.35"/>
<line x1="530.20" y1="778.50" x2="533.40" y2="783.60" stroke-width="1.2"/>
<line x1="534.70" y1="778.50" x2="537.90" y2="783.60" stroke-width="1.2"/>
<line x1="539.20" y1="778.50" x2="542.40" y2="783.60" stroke-width="1.2"/>
</g>
</svg>
</body></html>
